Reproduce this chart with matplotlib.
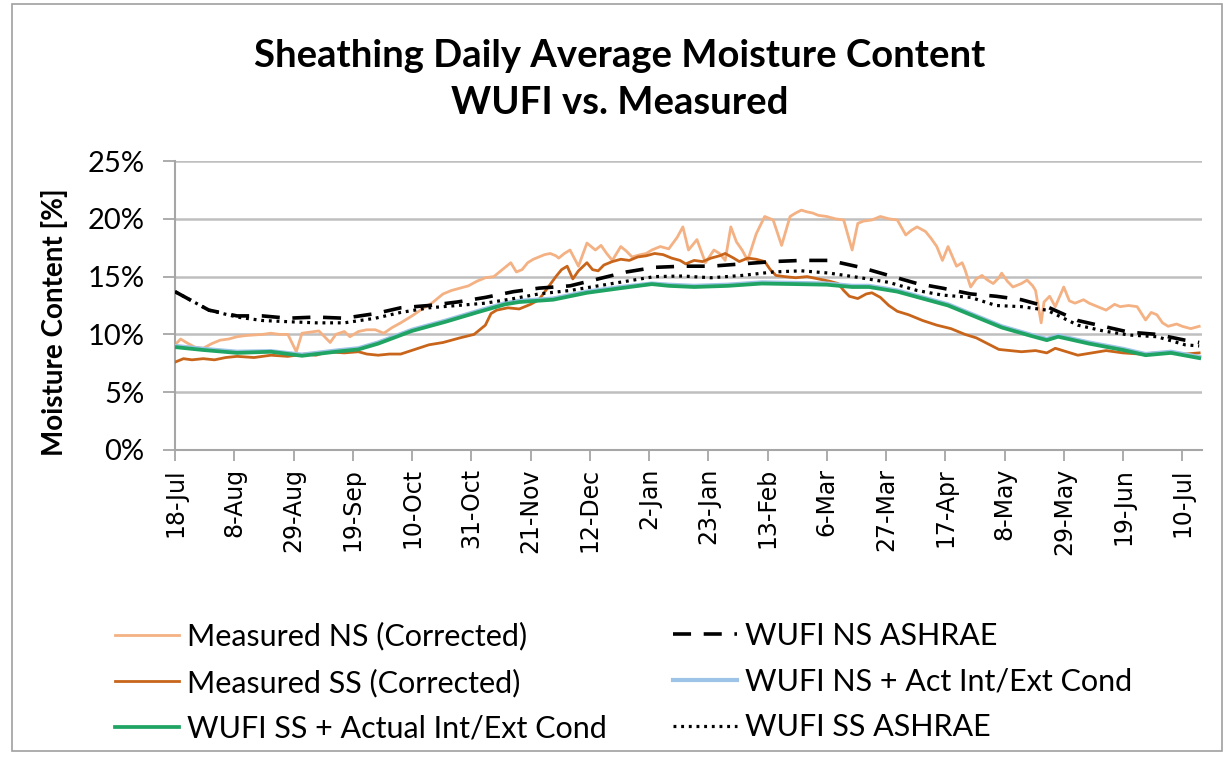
import matplotlib
matplotlib.use("Agg")
import matplotlib.pyplot as plt
from matplotlib.patches import Rectangle

# x positions are days after 18-Jul
tick_days = [0, 21, 42, 63, 84, 105, 126, 147, 168, 189, 210, 231, 252, 273, 294, 315, 336, 357]
tick_labels = ["18-Jul", "8-Aug", "29-Aug", "19-Sep", "10-Oct", "31-Oct", "21-Nov", "12-Dec",
               "2-Jan", "23-Jan", "13-Feb", "6-Mar", "27-Mar", "17-Apr", "8-May", "29-May",
               "19-Jun", "10-Jul"]

ns_meas_days = [0, 2, 4, 7, 10, 13, 16, 19, 22, 25, 28, 31, 34, 37, 40, 42, 43, 45, 48, 51, 53, 55,
                57, 60, 62, 65, 68, 71, 74, 77, 80, 84, 87, 91, 95, 98, 101, 104, 107, 110, 113,
                116, 119, 121, 123, 125, 127, 129, 131, 133, 135, 136, 138, 140, 143, 146, 149,
                151, 153, 155, 158, 160, 162, 165, 167, 169, 172, 175, 178, 180, 182, 185, 188,
                191, 193, 195, 197, 199, 201, 203, 206, 209, 212, 215, 218, 220, 222, 224, 226,
                228, 231, 234, 237, 240, 242, 244, 247, 250, 253, 256, 259, 261, 263, 266, 268,
                270, 272, 274, 277, 279, 280, 282, 284, 286, 288, 290, 292, 293, 295, 297, 300,
                302, 304, 305, 307, 308, 310, 312, 315, 317, 319, 322, 324, 327, 330, 333, 335,
                338, 341, 344, 346, 348, 350, 352, 355, 357, 360, 363]
ns_meas = [9.1, 9.6, 9.3, 8.9, 8.8, 9.2, 9.5, 9.6, 9.8, 9.9, 9.95, 10.0, 10.1, 10.0, 10.0, 9.0, 8.5,
           10.1, 10.2, 10.3, 9.8, 9.3, 10.0, 10.25, 9.8, 10.25, 10.4, 10.4, 10.1, 10.6, 11.0, 11.6,
           12.1, 12.7, 13.5, 13.8, 14.0, 14.2, 14.6, 14.9, 15.0, 15.6, 16.2, 15.4, 15.6, 16.2,
           16.5, 16.7, 16.9, 17.0, 16.8, 16.6, 17.0, 17.3, 15.9, 17.9, 17.3, 17.7, 17.0, 16.4,
           17.6, 17.2, 16.7, 16.9, 17.0, 17.3, 17.6, 17.4, 18.4, 19.3, 17.3, 18.2, 16.2, 17.3,
           17.0, 16.4, 19.3, 18.0, 17.3, 16.4, 18.7, 20.2, 19.9, 17.7, 20.2, 20.5, 20.75, 20.6,
           20.5, 20.3, 20.2, 20.0, 19.9, 17.3, 19.6, 19.8, 19.9, 20.2, 20.0, 19.9, 18.6, 19.0,
           19.3, 18.9, 18.3, 17.6, 16.4, 17.6, 15.9, 16.2, 15.6, 14.1, 14.8, 15.1, 14.7, 14.4,
           14.9, 15.3, 14.6, 14.1, 14.4, 14.7, 14.2, 13.8, 11.0, 12.8, 13.3, 12.4, 14.1, 12.9,
           12.7, 13.0, 12.7, 12.4, 12.1, 12.6, 12.4, 12.5, 12.4, 11.25, 11.9, 11.7, 11.0, 10.7,
           10.9, 10.7, 10.5, 10.7]

ss_meas_days = [0, 3, 6, 10, 14, 18, 22, 28, 34, 40, 46, 50, 54, 60, 65, 68, 72, 76, 80, 85, 90,
                95, 101, 106, 110, 112, 114, 118, 122, 126, 129, 132, 135, 137, 139, 141, 143,
                146, 148, 150, 152, 155, 158, 161, 164, 167, 170, 173, 176, 179, 181, 184, 187,
                190, 193, 195, 198, 200, 203, 206, 209, 211, 213, 216, 220, 224, 228, 232, 235,
                237, 239, 242, 245, 247, 250, 253, 256, 260, 265, 270, 275, 280, 284, 288, 292,
                296, 300, 305, 309, 312, 316, 320, 325, 330, 336, 342, 348, 354, 358, 363]
ss_meas = [7.6, 7.9, 7.8, 7.9, 7.8, 8.0, 8.1, 8.0, 8.2, 8.1, 8.3, 8.2, 8.5, 8.4, 8.5, 8.3, 8.2,
           8.3, 8.3, 8.7, 9.1, 9.3, 9.7, 10.0, 10.8, 11.8, 12.1, 12.3, 12.2, 12.6, 13.0, 14.0,
           15.0, 15.6, 15.9, 14.8, 15.5, 16.2, 15.6, 15.5, 16.0, 16.3, 16.5, 16.4, 16.7, 16.8,
           17.0, 16.9, 16.6, 16.4, 16.1, 16.4, 16.3, 16.6, 16.8, 17.0, 16.6, 16.3, 16.6, 16.5,
           16.3, 15.6, 15.1, 15.0, 14.9, 15.0, 14.8, 14.6, 14.4, 13.8, 13.3, 13.1, 13.5, 13.6,
           13.2, 12.5, 12.0, 11.7, 11.2, 10.8, 10.5, 10.0, 9.7, 9.2, 8.7, 8.6, 8.5, 8.6, 8.4,
           8.8, 8.5, 8.2, 8.4, 8.6, 8.4, 8.3, 8.4, 8.4, 8.3, 8.4]

wufi_days = [0, 10, 22, 34, 45, 57, 65, 72, 84, 96, 107, 117, 122, 134, 146, 158, 169, 175, 184,
             196, 208, 220, 231, 240, 246, 256, 265, 274, 284, 293, 303, 309, 313, 324, 336, 344,
             353, 363]
ss_act = [8.9, 8.65, 8.4, 8.5, 8.15, 8.5, 8.7, 9.2, 10.3, 11.1, 11.9, 12.6, 12.8, 13.0, 13.6,
          14.0, 14.35, 14.2, 14.1, 14.2, 14.4, 14.35, 14.3, 14.1, 14.1, 13.7, 13.1, 12.5, 11.5,
          10.6, 9.9, 9.5, 9.8, 9.2, 8.65, 8.2, 8.4, 7.95]
ns_act = [9.0, 8.75, 8.5, 8.55, 8.25, 8.6, 8.8, 9.3, 10.4, 11.2, 12.0, 12.7, 12.9, 13.1, 13.7,
          14.1, 14.4, 14.3, 14.2, 14.3, 14.5, 14.45, 14.4, 14.2, 14.2, 13.8, 13.2, 12.6, 11.6,
          10.7, 10.0, 9.6, 9.9, 9.3, 8.75, 8.3, 8.5, 8.05]

ashrae_days = [0, 6, 12, 22, 31, 40, 50, 60, 71, 80, 90, 100, 110, 120, 129, 140, 150, 160, 170,
               180, 190, 201, 212, 222, 232, 243, 253, 263, 272, 282, 291, 300, 309, 320, 329,
               338, 348, 358, 363]
ns_ashrae = [13.7, 12.9, 12.1, 11.6, 11.6, 11.4, 11.5, 11.4, 11.8, 12.3, 12.5, 12.8, 13.2, 13.7,
             14.0, 14.2, 14.8, 15.4, 15.8, 15.9, 15.9, 16.1, 16.3, 16.4, 16.4, 15.8, 15.1, 14.4,
             14.0, 13.5, 13.3, 13.0, 12.4, 11.2, 10.7, 10.2, 10.0, 9.5, 9.3]
ss_ashrae = [13.7, 12.9, 12.1, 11.5, 11.2, 11.1, 11.0, 11.0, 11.4, 11.9, 12.3, 12.5, 12.7, 13.1,
             13.5, 13.8, 14.2, 14.6, 15.0, 15.05, 14.9, 15.1, 15.4, 15.5, 15.3, 14.9, 14.5, 13.8,
             13.4, 13.2, 12.5, 12.4, 12.1, 10.8, 10.3, 9.95, 9.8, 9.1, 9.0]

y_ticks = [0, 5, 10, 15, 20, 25]

W, H = 1232, 757
fig = plt.figure(figsize=(W / 100, H / 100), dpi=100)
ax = fig.add_axes([175 / W, 1 - 450 / H, (1202 - 175) / W, (450 - 161) / H])

h_ns, = ax.plot(ns_meas_days, ns_meas, color="#F4B183", lw=2.0, label="Measured NS (Corrected)", zorder=2)
h_ss, = ax.plot(ss_meas_days, ss_meas, color="#C8651A", lw=2.0, label="Measured SS (Corrected)", zorder=3)
h_nsa, = ax.plot(wufi_days, ns_act, color="#9DC3E6", lw=3.0, label="WUFI NS + Act Int/Ext Cond", zorder=4)
h_ssa, = ax.plot(wufi_days, ss_act, color="#1FA463", lw=2.7, label="WUFI SS + Actual Int/Ext Cond", zorder=5)
h_nsh, = ax.plot(ashrae_days, ns_ashrae, color="black", lw=2.6, dashes=(5, 3.5), label="WUFI NS ASHRAE", zorder=6)
h_ssh, = ax.plot(ashrae_days, ss_ashrae, color="black", lw=2.3, dashes=(0.9, 1.5), label="WUFI SS ASHRAE", zorder=7)

ax.set_xlim(0, 364)
ax.set_ylim(0, 25)
ax.set_xticks(tick_days)
ax.set_xticklabels(tick_labels, rotation=90, fontsize=17, family="DejaVu Sans")
ax.set_yticks(y_ticks)
ax.set_yticklabels([f"{v}%" for v in y_ticks], fontsize=21, family="Lato")
ax.tick_params(axis="x", direction="out", length=8, width=1.3, color="#A6A6A6", pad=5)
ax.tick_params(axis="y", direction="out", length=9, width=1.3, color="#A6A6A6", pad=13)
ax.yaxis.grid(True, color="#BFBFBF", lw=1.8)
ax.set_axisbelow(True)
for side in ["top", "right"]:
    ax.spines[side].set_visible(False)
for side in ["left", "bottom"]:
    ax.spines[side].set_color("#A6A6A6")
    ax.spines[side].set_linewidth(1.5)

fig.text(0.503, 1 - 56 / H, "Sheathing Daily Average Moisture Content", ha="center", va="center",
         fontsize=27.5, fontweight="bold", family="Lato")
fig.text(0.503, 1 - 103 / H, "WUFI vs. Measured", ha="center", va="center",
         fontsize=27.5, fontweight="bold", family="Lato")
fig.text(55 / W, 1 - 322 / H, "Moisture Content [%]", rotation=90, ha="center", va="center",
         fontsize=20, fontweight="bold", family="Lato")

leg_kw = dict(loc="upper left", frameon=False, borderpad=0, borderaxespad=0, handlelength=2.1,
              handletextpad=0.25, labelspacing=0.58, prop={"family": "Lato", "size": 22})
leg1 = fig.legend([h_ns, h_ss, h_ssa], [h.get_label() for h in [h_ns, h_ss, h_ssa]],
                  bbox_to_anchor=(115 / W, 1 - 622 / H), **leg_kw)
leg2 = fig.legend([h_nsh, h_nsa, h_ssh], [h.get_label() for h in [h_nsh, h_nsa, h_ssh]],
                  bbox_to_anchor=(673 / W, 1 - 622 / H), **leg_kw)

fig.patches.append(Rectangle((12 / W, 1 - 751 / H), (1222 - 12) / W, (751 - 4) / H,
                             transform=fig.transFigure, fill=False, ec="#A0A0A0", lw=1.2))

fig.savefig("out.png", dpi=100)
